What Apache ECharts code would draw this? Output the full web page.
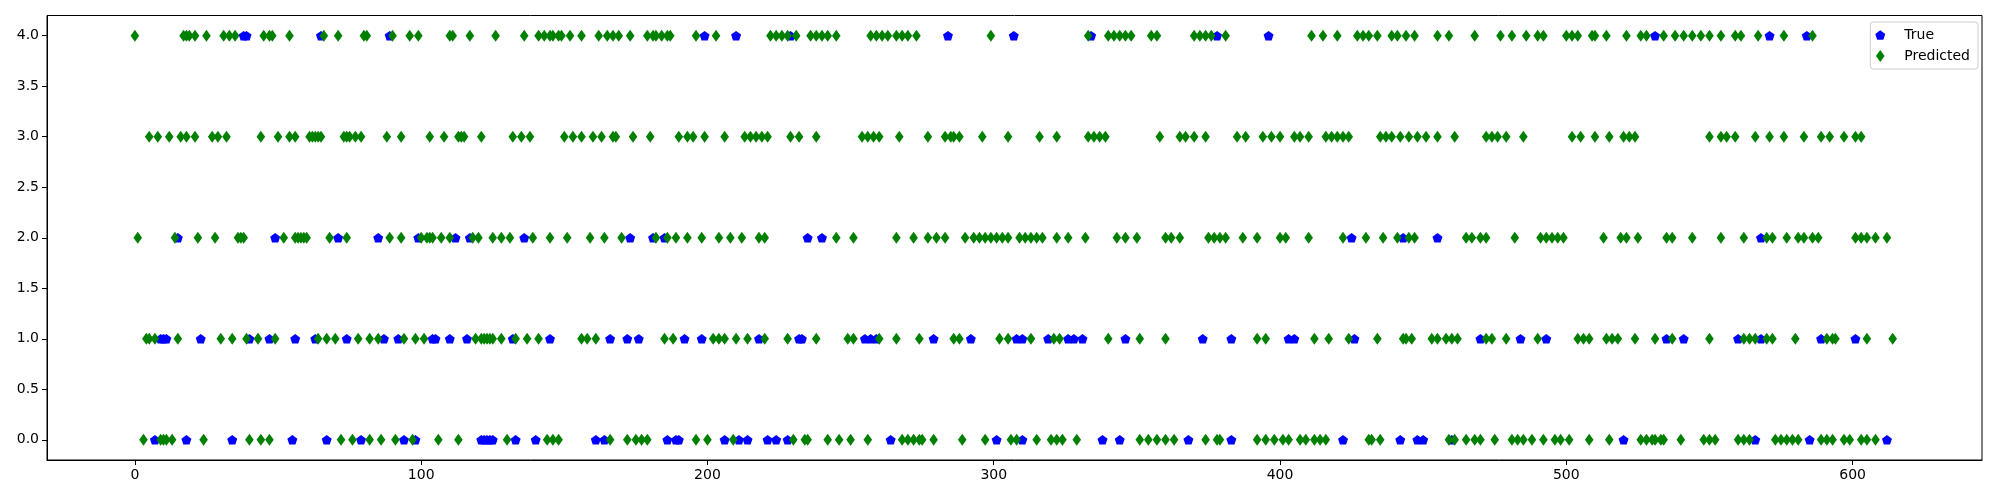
<!DOCTYPE html>
<html><head><meta charset="utf-8">
<script src="https://cdn.jsdelivr.net/npm/echarts@6/dist/echarts.min.js"></script>
<style>html,body{margin:0;padding:0;background:#fff}#chart{width:2000px;height:500px}</style>
</head><body><div id="chart"></div>
<script>
// ---- data (x = sample index, y = class) ----
const xTicks = [0, 100, 200, 300, 400, 500, 600];
const yTicks = [0, 0.5, 1, 1.5, 2, 2.5, 3, 3.5, 4];
const classes = [0, 1, 2, 3, 4];

// indices whose Predicted class is k
const predRow0 = [3,9,10,11,13,24,40,44,47,72,76,82,86,91,97,106,113,130,144,146,148,166,172,175,177,179,196,200,209,230,234,235,242,246,250,256,268,270,272,274,275,279,289,297,306,308,315,320,322,324,329,351,354,357,360,363,374,378,379,392,395,398,401,403,407,409,412,414,416,431,432,435,459,461,465,468,470,475,481,483,485,488,492,496,498,501,508,515,526,528,530,531,533,534,540,548,550,552,560,562,564,573,575,577,579,581,589,591,593,597,599,603,605,608];
const predRow1 = [4,5,7,15,30,34,39,43,49,64,67,70,78,82,85,94,98,101,119,121,122,123,124,125,128,133,137,141,156,158,161,185,188,202,204,206,210,214,220,228,238,249,251,260,266,274,286,288,302,305,313,321,323,340,351,360,392,395,412,417,424,434,443,444,446,453,455,458,460,462,472,474,479,490,504,506,508,514,516,518,524,531,537,550,562,564,566,570,572,580,591,593,594,605,614];
const predRow2 = [1,14,22,28,36,37,38,52,56,57,58,59,60,68,74,89,93,100,102,103,104,107,110,118,120,125,128,131,139,145,151,159,164,170,182,186,189,193,198,204,208,212,218,220,245,251,266,272,277,280,283,290,293,295,297,299,301,303,305,309,311,313,315,317,322,326,332,343,346,350,360,362,365,375,377,379,381,387,392,400,402,410,422,430,436,441,445,447,465,467,470,472,482,491,493,495,497,499,513,519,521,525,535,537,544,554,562,570,572,577,581,583,586,588,601,603,605,608,612];
const predRow3 = [5,8,12,16,18,21,27,29,32,44,50,54,56,61,62,63,64,65,73,74,75,77,79,88,93,103,108,113,114,115,121,132,135,138,150,153,156,160,163,167,168,174,180,190,193,195,199,206,213,215,217,219,221,229,232,238,254,256,258,260,267,277,283,285,286,288,296,305,316,322,333,335,337,339,358,365,367,370,374,385,388,394,397,400,405,407,410,416,418,420,422,424,435,437,439,442,445,448,451,455,461,472,474,476,479,485,502,505,510,515,520,522,524,550,554,556,559,566,571,576,583,589,592,597,601,603];
const predRow4 = [0,17,18,19,21,25,31,33,35,45,47,48,54,66,71,80,81,90,96,99,110,111,117,126,136,141,143,145,146,148,149,152,156,162,165,167,169,173,179,181,182,184,186,187,196,203,222,224,226,228,231,236,238,240,242,245,257,259,261,263,266,268,270,273,299,333,340,342,344,346,348,355,357,370,372,374,376,381,411,415,420,427,429,431,434,439,441,444,447,455,459,468,477,481,486,490,492,500,502,504,509,510,514,521,526,528,534,538,541,544,547,550,554,559,561,567,576,586];

// indices whose True class is k where the prediction differs (the visible blue marks;
// where True equals Predicted the blue mark lies hidden under the green one)
const trueRow0 = [7,18,34,55,67,79,94,98,121,122,123,124,125,133,140,161,164,186,189,190,206,211,214,221,224,228,264,301,310,338,344,368,383,422,442,448,450,460,520,566,585,612];
const trueRow1 = [9,10,11,23,40,47,56,63,74,87,92,104,105,110,116,132,145,166,172,176,192,198,218,232,233,255,257,259,279,292,308,310,319,326,328,331,346,373,383,403,405,426,470,484,493,535,541,560,568,589,601];
const trueRow2 = [15,49,71,85,99,112,117,136,173,181,185,235,240,425,443,455,568];
const trueRow3 = [];
const trueRow4 = [38,39,65,89,199,210,229,284,307,334,378,396,531,571,584];

// ---- build series data ----
const predRows = [predRow0, predRow1, predRow2, predRow3, predRow4];
const trueRows = [trueRow0, trueRow1, trueRow2, trueRow3, trueRow4];
const predData = [];
const trueData = [];
classes.forEach(k => {
  predRows[k].forEach(i => predData.push([i, k]));
  trueRows[k].forEach(i => trueData.push([i, k]));
});

const pentagon = 'path://M0,-1L0.951,-0.309L0.588,0.809L-0.588,0.809L-0.951,-0.309Z';
const pentagonLegend = 'path://M0,-1.24L0,-1.24M0,1.05L0,1.05M0,-1L0.951,-0.309L0.588,0.809L-0.588,0.809L-0.951,-0.309Z';
const thinDiamond = 'path://M0,-6L4.3,0L0,6L-4.3,0Z';

const font = 'DejaVu Sans';
const chart = echarts.init(document.getElementById('chart'), null, {renderer: 'canvas', width: 2000, height: 500});
chart.setOption({
  animation: false,
  backgroundColor: '#ffffff',
  grid: {left: 47, right: 18, top: 15.5, bottom: 40, show: true, borderColor: '#000', borderWidth: 1, backgroundColor: 'transparent'},
  xAxis: {
    type: 'value', min: -30.7, max: 645.2,
    splitLine: {show: false},
    axisLine: {show: true, onZero: false, lineStyle: {color: '#000', width: 1}},
    axisTick: {show: true, inside: false, length: 5, lineStyle: {color: '#000'}, customValues: xTicks},
    axisLabel: {customValues: xTicks, color: '#000', fontSize: 14, fontFamily: font, margin: 8}
  },
  yAxis: {
    type: 'value', min: -0.2, max: 4.2,
    splitLine: {show: false},
    axisLine: {show: true, onZero: false, lineStyle: {color: '#000', width: 1}},
    axisTick: {show: true, inside: false, length: 5, lineStyle: {color: '#000'}, customValues: yTicks},
    axisLabel: {customValues: yTicks, color: '#000', fontSize: 14, fontFamily: font, margin: 8,
      formatter: v => Number(v).toFixed(1)}
  },
  legend: {
    orient: 'vertical', right: 22, top: 22,
    backgroundColor: 'rgba(255,255,255,0.8)', borderColor: '#cccccc', borderWidth: 1, borderRadius: 3,
    padding: [6, 8, 6, 5], itemWidth: 28, itemHeight: 12, itemGap: 7,
    textStyle: {color: '#000', fontSize: 14, fontFamily: font, padding: [0, 0, 0, 5]},
    data: [{name: 'True', icon: pentagonLegend}, {name: 'Predicted', icon: thinDiamond}]
  },
  series: [
    {name: 'True', type: 'scatter', data: trueData, symbol: pentagon, symbolSize: [10, 9.5],
      itemStyle: {color: '#0000ff', opacity: 1}, emphasis: {disabled: true}},
    {name: 'Predicted', type: 'scatter', data: predData, symbol: thinDiamond, symbolSize: [8.6, 12],
      itemStyle: {color: '#008000', opacity: 1}, emphasis: {disabled: true}}
  ]
});
</script></body></html>
